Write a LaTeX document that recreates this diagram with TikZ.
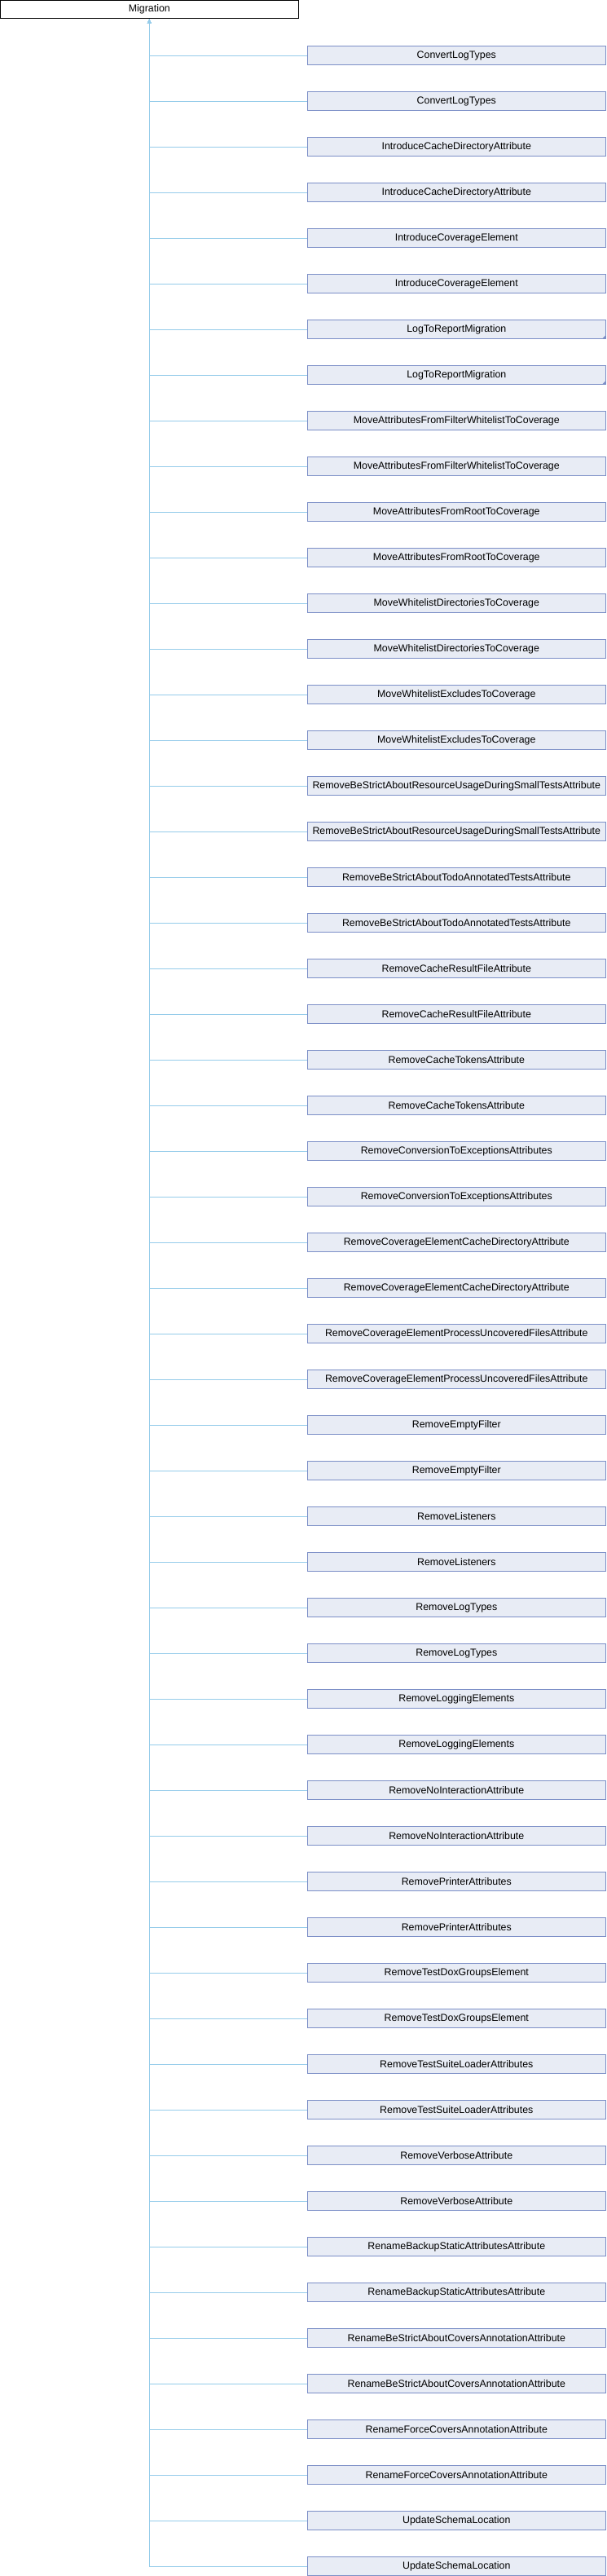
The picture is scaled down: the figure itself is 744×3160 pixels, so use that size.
\documentclass[tikz,border=0pt]{standalone}
\usepackage{fontspec}
\setmainfont{Liberation Sans}
\usepackage{tikz}
\usepackage{xcolor}
\usetikzlibrary{arrows.meta,calc}

\definecolor{clsfill}{HTML}{E8ECF5}
\definecolor{clsdraw}{HTML}{7C8FC7}
\definecolor{edgeblue}{HTML}{96CCEA}

\begin{document}
\begin{tikzpicture}[x=1pt, y=-1pt, >={Latex[length=5pt,width=5pt]},
  base/.style={draw=black, fill=white, minimum width=366pt, minimum height=22.6pt,
    inner sep=0pt, font=\fontsize{12.4}{14}\selectfont, line width=0.9pt},
  cls/.style={draw=clsdraw, fill=clsfill, minimum width=366pt, minimum height=22.6pt,
    inner sep=0pt, font=\fontsize{12.4}{14}\selectfont, line width=0.9pt},
  edge/.style={draw=edgeblue, line width=0.9pt}]
\useasboundingbox (0,0) rectangle (744,3160);

\node[base] (mig) at (183.3,11.6) {Migration};

% derived classes, each listed twice
\foreach \name [count=\i from 0] in {ConvertLogTypes,IntroduceCacheDirectoryAttribute,
    IntroduceCoverageElement,LogToReportMigration,MoveAttributesFromFilterWhitelistToCoverage,
    MoveAttributesFromRootToCoverage,MoveWhitelistDirectoriesToCoverage,
    MoveWhitelistExcludesToCoverage,RemoveBeStrictAboutResourceUsageDuringSmallTestsAttribute,
    RemoveBeStrictAboutTodoAnnotatedTestsAttribute,RemoveCacheResultFileAttribute,
    RemoveCacheTokensAttribute,RemoveConversionToExceptionsAttributes,
    RemoveCoverageElementCacheDirectoryAttribute,RemoveCoverageElementProcessUncoveredFilesAttribute,
    RemoveEmptyFilter,RemoveListeners,RemoveLogTypes,RemoveLoggingElements,
    RemoveNoInteractionAttribute,RemovePrinterAttributes,RemoveTestDoxGroupsElement,
    RemoveTestSuiteLoaderAttributes,RemoveVerboseAttribute,RenameBackupStaticAttributesAttribute,
    RenameBeStrictAboutCoversAnnotationAttribute,RenameForceCoversAnnotationAttribute,
    UpdateSchemaLocation}
  \foreach \k in {0,1} {
    \pgfmathsetmacro{\y}{68+112*\i+56*\k}
    \node[cls] (c\i-\k) at (560.3,\y) {\name};
    \draw[edge,<-] (mig.south) |- (c\i-\k.west);
  }

% marker for classes with further children
\foreach \k in {0,1}
  \fill[clsdraw] (c3-\k.south east) -- ++(-5,0) -- ++(5,-5) -- cycle;
\end{tikzpicture}
\end{document}
